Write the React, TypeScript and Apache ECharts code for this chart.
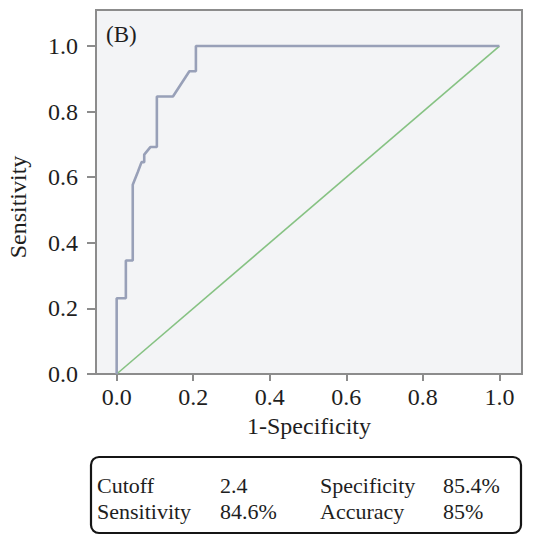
import React, { useEffect, useRef } from "react";
import * as echarts from "echarts";

// ROC curve points (1-Specificity, Sensitivity)
const fpr = [0, 0, 0.024, 0.024, 0.042, 0.042, 0.055, 0.065, 0.072, 0.072, 0.088, 0.105, 0.105, 0.147, 0.19, 0.207, 0.207, 1];
const tpr = [0, 0.231, 0.231, 0.346, 0.346, 0.577, 0.615, 0.646, 0.646, 0.669, 0.692, 0.692, 0.846, 0.846, 0.923, 0.923, 1, 1];
// reference (chance) line
const refX = [0, 1];
const refY = [0, 1];
const tickValues = [0, 0.2, 0.4, 0.6, 0.8, 1.0];
const statLabels = ["Cutoff", "Sensitivity", "Specificity", "Accuracy"];
const statValues = ["2.4", "84.6%", "85.4%", "85%"];
const panelLabel = "(B)";

const FONT = "'Liberation Serif', 'Times New Roman', serif";

export default function App() {
  const ref = useRef<HTMLDivElement>(null);
  useEffect(() => {
    if (!ref.current) return;
    const chart = echarts.init(ref.current, undefined, { renderer: "svg" });
    const axisGray = "#8c8c8c";
    const textCol = "#1e1e1e";
    const statText = (x: number, y: number, t: string) => ({
      type: "text",
      x,
      y,
      style: { text: t, fontFamily: FONT, fontSize: 22, fill: textCol, align: "left", verticalAlign: "middle" },
    });
    chart.setOption({
      animation: false,
      backgroundColor: "#ffffff",
      grid: {
        left: 96,
        top: 10,
        width: 426,
        height: 364,
        show: true,
        backgroundColor: "#f3f4f6",
        borderColor: axisGray,
        borderWidth: 2,
      },
      xAxis: {
        type: "value",
        min: -0.054,
        max: 1.059,
        name: "1-Specificity",
        nameLocation: "middle",
        nameGap: 40,
        nameTextStyle: { fontFamily: FONT, fontSize: 24, color: textCol },
        axisLine: { show: true, lineStyle: { color: axisGray, width: 2 } },
        axisTick: { show: true, length: 7, customValues: tickValues, lineStyle: { color: axisGray, width: 2 } },
        axisLabel: {
          customValues: tickValues,
          formatter: (v: number) => v.toFixed(1),
          fontFamily: FONT,
          fontSize: 24,
          color: textCol,
          margin: 11,
        },
        splitLine: { show: false },
      },
      yAxis: {
        type: "value",
        min: 0,
        max: 1.11,
        axisLine: { show: true, onZero: false, lineStyle: { color: axisGray, width: 2 } },
        axisTick: { show: true, length: 9, customValues: tickValues, lineStyle: { color: axisGray, width: 2 } },
        axisLabel: {
          customValues: tickValues,
          formatter: (v: number) => v.toFixed(1),
          fontFamily: FONT,
          fontSize: 24,
          color: textCol,
          margin: 18,
        },
        splitLine: { show: false },
      },
      series: [
        {
          type: "line",
          data: refX.map((x, i) => [x, refY[i]]),
          showSymbol: false,
          lineStyle: { color: "#86c283", width: 1.6 },
          z: 2,
        },
        {
          type: "line",
          data: fpr.map((x, i) => [x, tpr[i]]),
          showSymbol: false,
          lineStyle: { color: "#98a0b8", width: 2.6 },
          z: 3,
        },
      ],
      graphic: [
        {
          type: "text",
          x: 106,
          y: 34,
          style: { text: panelLabel, fontFamily: FONT, fontSize: 23, fill: textCol, verticalAlign: "middle" },
        },
        {
          type: "text",
          x: 18,
          y: 207,
          rotation: Math.PI / 2,
          style: { text: "Sensitivity", fontFamily: FONT, fontSize: 24, fill: textCol, align: "center", verticalAlign: "middle" },
        },
        {
          type: "rect",
          shape: { x: 91, y: 457, width: 430, height: 76, r: 8 },
          style: { fill: "#ffffff", stroke: "#151515", lineWidth: 2.2 },
        },
        statText(97, 485, statLabels[0]),
        statText(220, 485, statValues[0]),
        statText(320, 485, statLabels[2]),
        statText(443, 485, statValues[2]),
        statText(97, 511, statLabels[1]),
        statText(220, 511, statValues[1]),
        statText(320, 511, statLabels[3]),
        statText(443, 511, statValues[3]),
      ],
    });
    return () => chart.dispose();
  }, []);
  return <div ref={ref} style={{ position: "fixed", left: 0, top: 0, width: 536, height: 536 }} />;
}
